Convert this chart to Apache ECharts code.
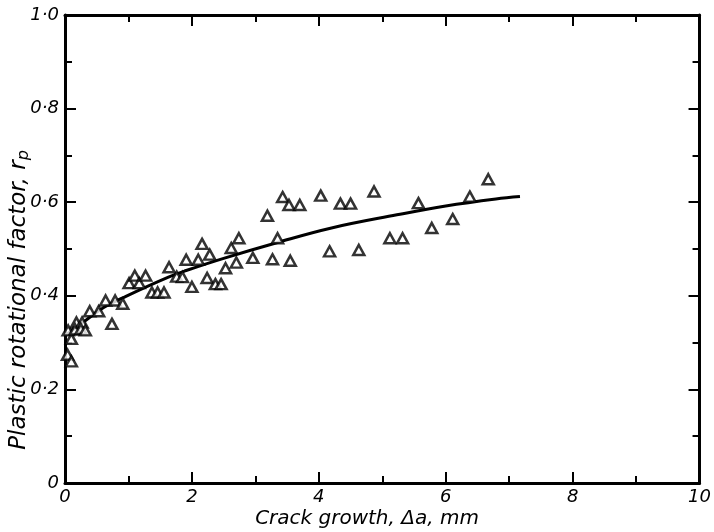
<!DOCTYPE html>
<html>
<head>
<meta charset="utf-8">
<script src="https://cdn.jsdelivr.net/npm/echarts@6/dist/echarts.min.js"></script>
<style>html,body{margin:0;padding:0;background:#fff;}#c{width:714px;height:532px;}</style>
</head>
<body>
<div id="c"></div>
<script>
// Measured points: crack growth Δa (mm) and plastic rotational factor r_p
const pointsX = [0.04,0.10,0.05,0.10,0.18,0.16,0.27,0.25,0.32,0.39,0.53,0.74,0.64,0.79,0.91,1.01,1.10,1.17,1.27,1.37,1.46,1.56,1.64,1.76,1.85,1.91,2.10,2.16,2.28,2.00,2.24,2.37,2.46,2.53,2.62,2.74,2.70,2.96,3.19,3.35,3.27,3.55,3.43,3.53,3.70,4.03,4.17,4.34,4.50,4.87,4.63,5.12,5.32,5.57,5.78,6.11,6.38,6.67];
const pointsY = [0.274,0.260,0.326,0.308,0.343,0.328,0.343,0.329,0.326,0.367,0.367,0.340,0.390,0.390,0.383,0.427,0.443,0.427,0.443,0.407,0.407,0.407,0.461,0.441,0.440,0.477,0.477,0.511,0.488,0.419,0.438,0.425,0.425,0.459,0.502,0.523,0.471,0.481,0.571,0.523,0.478,0.475,0.611,0.594,0.594,0.614,0.495,0.597,0.597,0.623,0.498,0.523,0.523,0.598,0.545,0.564,0.612,0.649];
// Fitted curve
const curveX = [0,0.34,0.61,0.96,1.63,1.91,2.5,3.35,4.2,5.23,6.0,6.79,7.17];
const curveY = [0.315,0.349,0.375,0.399,0.440,0.454,0.480,0.514,0.545,0.573,0.592,0.607,0.612];
const xTicks = [0,2,4,6,8,10];
const yTicks = [0,0.2,0.4,0.6,0.8,1.0];

const FONT = 'DejaVu Sans';
const INK = '#000';
const chart = echarts.init(document.getElementById('c'), null, {renderer:'canvas'});

const yFmt = v => (Math.abs(v) < 1e-9 ? '0' : v.toFixed(1).replace('.', '·'));
const axisCommon = {
  axisLine:{show:true, onZero:false, lineStyle:{color:INK, width:3}},
  axisTick:{show:true, inside:true, length:11, lineStyle:{color:INK, width:2}},
  minorTick:{show:true, splitNumber:2, length:7, lineStyle:{color:INK, width:2}},
  splitLine:{show:false},
  minorSplitLine:{show:false}
};

chart.setOption({
  backgroundColor:'#fff',
  animation:false,
  grid:{left:65, right:9, top:15, bottom:49},
  xAxis:[
    Object.assign({type:'value', min:xTicks[0], max:xTicks[xTicks.length-1], interval:2, position:'bottom',
      axisLabel:{show:true, margin:5, color:INK, fontFamily:FONT, fontStyle:'italic', fontSize:18,
        formatter:v => String(v)}}, axisCommon),
    Object.assign({type:'value', min:0, max:10, interval:2, position:'top', axisLabel:{show:false}}, axisCommon)
  ],
  yAxis:[
    Object.assign({type:'value', min:yTicks[0], max:yTicks[yTicks.length-1], interval:0.2, position:'left',
      axisLabel:{show:true, margin:6, color:INK, fontFamily:FONT, fontStyle:'italic', fontSize:18,
        formatter:yFmt}}, axisCommon),
    Object.assign({type:'value', min:0, max:1, interval:0.2, position:'right', axisLabel:{show:false}}, axisCommon)
  ],
  graphic:[
    {type:'text', x:367, y:519, style:{text:'Crack growth, Δa, mm', fill:INK, align:'center', verticalAlign:'middle',
      font:'italic 20px "DejaVu Sans"'}},
    {type:'text', x:19, y:300, rotation:Math.PI/2,
      style:{text:'Plastic rotational factor, {r|r}{s|p}', fill:INK, align:'center', verticalAlign:'middle',
        font:'italic 23px "DejaVu Sans"',
        rich:{r:{fontFamily:FONT, fontStyle:'italic', fontSize:23, fill:INK},
              s:{fontFamily:FONT, fontStyle:'italic', fontSize:16, fill:INK, padding:[10,0,0,0]}}}}
  ],
  series:[
    {type:'line', xAxisIndex:0, yAxisIndex:0, data:curveX.map((x,i)=>[x,curveY[i]]), smooth:0.4,
      showSymbol:false, symbol:'none', lineStyle:{color:INK, width:3}, z:2},
    {type:'scatter', xAxisIndex:0, yAxisIndex:0, data:pointsX.map((x,i)=>[x,pointsY[i]]),
      symbol:'triangle', symbolSize:[11,10],
      itemStyle:{color:'#fff', borderColor:INK, borderWidth:2.5}, z:3}
  ]
});
</script>
</body>
</html>
